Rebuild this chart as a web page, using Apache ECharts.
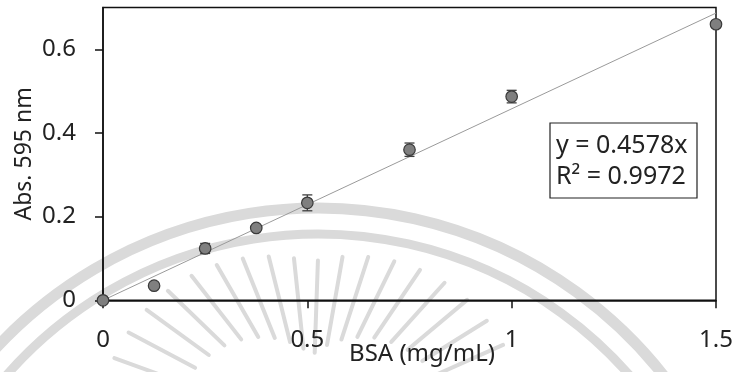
<!DOCTYPE html>
<html><head><meta charset="utf-8">
<script src="https://cdn.jsdelivr.net/npm/echarts@6/dist/echarts.min.js"></script>
<style>html,body{margin:0;padding:0;background:#fff}#c{width:735px;height:372px}</style>
</head><body><div id="c"></div>
<script>
const concentrations = [0, 0.125, 0.25, 0.375, 0.5, 0.75, 1.0, 1.5];
const absorbance = [0, 0.035, 0.124, 0.173, 0.233, 0.360, 0.487, 0.660];
const errors = [0, 0.004, 0.012, 0.004, 0.019, 0.016, 0.015, 0.008];
const slope = 0.4578;
const xTicks = [0, 0.5, 1, 1.5];
const yTicks = [0, 0.2, 0.4, 0.6];
const equationLines = ['y = 0.4578x', 'R² = 0.9972'];

const pts = concentrations.map((x, i) => [x, absorbance[i]]);
const errData = concentrations.map((x, i) => [x, absorbance[i] - errors[i], absorbance[i] + errors[i]]);
const trend = [[0, 0], [1.5, slope * 1.5]];

const font = 'Noto Sans';
const wm = '#dadada';
const graphics = [];
// watermark (background seal)
graphics.push({type:'arc', z:-10, silent:true, shape:{cx:318, cy:648, r:440, startAngle:Math.PI*0.95, endAngle:Math.PI*2.05}, style:{stroke:wm, lineWidth:11, fill:null}});
graphics.push({type:'arc', z:-10, silent:true, shape:{cx:318, cy:648, r:414, startAngle:Math.PI*0.95, endAngle:Math.PI*2.05}, style:{stroke:wm, lineWidth:9, fill:null}});
for (let a = 200; a <= 340; a += 8) {
  const t = a * Math.PI / 180;
  const c = Math.abs(Math.cos(t));
  const cx = 312, cy = 430, r1 = 75 + 65 * c, r2 = 168 + 45 * c;
  graphics.push({type:'line', z:-10, silent:true, shape:{x1:cx + r1*Math.cos(t), y1:cy + r1*Math.sin(t), x2:cx + r2*Math.cos(t), y2:cy + r2*Math.sin(t)}, style:{stroke:wm, lineWidth:4, lineCap:'round'}});
}
// equation box
graphics.push({type:'rect', z:50, shape:{x:550, y:123, width:147, height:75}, style:{fill:'#fff', stroke:'#222', lineWidth:1.2}});
graphics.push({type:'text', z:51, style:{x:556, y:146, text:equationLines[0], font:'25px "Noto Sans"', fill:'#222', verticalAlign:'middle'}});
graphics.push({type:'text', z:51, style:{x:556, y:177, text:equationLines[1], font:'25px "Noto Sans"', fill:'#222', verticalAlign:'middle'}});

const chart = echarts.init(document.getElementById('c'), null, {renderer:'canvas'});
chart.setOption({
  animation:false,
  backgroundColor:'#fff',
  textStyle:{fontFamily:font},
  grid:{left:103, right:19, top:7.5, bottom:71.7, show:true, borderColor:'#111', borderWidth:1.5, backgroundColor:'transparent', containLabel:false, outerBoundsMode:'none'},
  xAxis:{type:'value', min:0, max:1.5, interval:0.5,
    name:'BSA (mg/mL)', nameLocation:'middle', nameGap:42, nameMoveOverlap:false,
    nameTextStyle:{fontSize:24, color:'#222', fontFamily:font, padding:[0,0,0,25]},
    axisLine:{show:true, lineStyle:{color:'#111', width:1.5}},
    axisTick:{show:true, length:8, lineStyle:{color:'#111', width:1.5}, customValues:xTicks},
    axisLabel:{fontSize:24, color:'#222', margin:28, fontFamily:font, customValues:xTicks, formatter:v=>String(v)},
    splitLine:{show:false}},
  yAxis:{type:'value', min:0, max:0.7, interval:0.1,
    name:'Abs. 595 nm', nameLocation:'middle', nameGap:67, nameRotate:90, nameMoveOverlap:false,
    nameTextStyle:{fontSize:23, color:'#222', fontFamily:font},
    axisLine:{show:true, lineStyle:{color:'#111', width:1.5}},
    axisTick:{show:true, length:8, lineStyle:{color:'#111', width:1.5}, customValues:yTicks},
    axisLabel:{fontSize:24, color:'#222', margin:27, fontFamily:font, customValues:yTicks, formatter:v=>String(v)},
    splitLine:{show:false}},
  graphic:graphics,
  series:[
    {type:'line', data:trend, symbol:'none', lineStyle:{color:'#9a9a9a', width:1}, z:3, silent:true},
    {type:'custom', z:4, data:errData, renderItem:function(params, api){
      const x = api.value(0), lo = api.value(1), hi = api.value(2);
      const p1 = api.coord([x, lo]), p2 = api.coord([x, hi]);
      const w = 5;
      const st = {stroke:'#404040', lineWidth:1.3};
      return {type:'group', children:[
        {type:'line', shape:{x1:p1[0], y1:p1[1], x2:p2[0], y2:p2[1]}, style:st},
        {type:'line', shape:{x1:p1[0]-w, y1:p1[1], x2:p1[0]+w, y2:p1[1]}, style:st},
        {type:'line', shape:{x1:p2[0]-w, y1:p2[1], x2:p2[0]+w, y2:p2[1]}, style:st}
      ]};
    }},
    {type:'scatter', z:5, data:pts, symbol:'circle', symbolSize:11.5,
      itemStyle:{color:'#7f7f7f', borderColor:'#3a3a3a', borderWidth:1.2, opacity:1}}
  ]
});
</script></body></html>
